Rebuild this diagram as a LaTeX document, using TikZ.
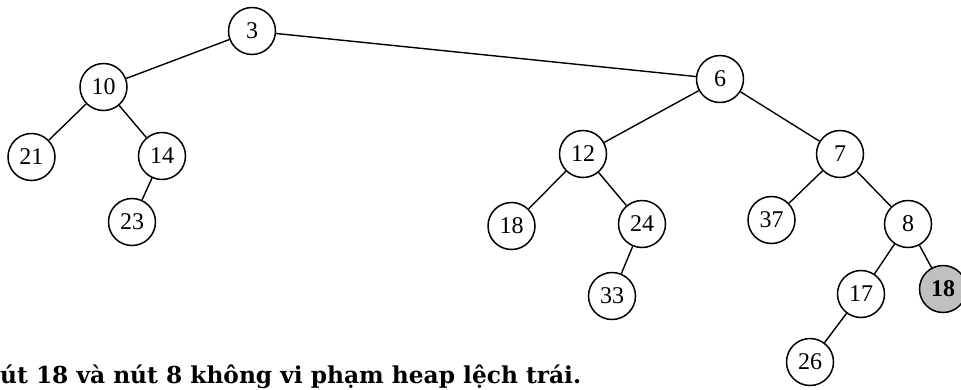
\documentclass[tikz,border=0pt]{standalone}
\usepackage{fontspec}
\setmainfont{Liberation Serif}
\newfontfamily\captfont{DejaVu Serif}
\begin{document}
\begin{tikzpicture}[x=1pt,y=-1pt,
  hnode/.style={circle, draw, line width=1.5pt, minimum size=47pt, inner sep=0pt, font=\fontsize{24}{24}\selectfont},
  hmark/.style={hnode, fill={rgb,255:red,192;green,192;blue,192}, font=\fontsize{24}{24}\selectfont\bfseries},
  edge/.style={line width=1.4pt}]
\useasboundingbox (0,0) rectangle (961,389);
\node[hnode] (n3) at (252,31) {3};
\node[hnode] (n10) at (103.5,87) {10};
\node[hnode] (n21) at (31.5,157) {21};
\node[hnode] (n14) at (162,156) {14};
\node[hnode] (n23) at (132,222) {23};
\node[hnode] (n6) at (720,79) {6};
\node[hnode] (n12) at (583,154) {12};
\node[hnode] (n18a) at (511.5,226) {18};
\node[hnode] (n24) at (642,224) {24};
\node[hnode] (n33) at (612,296) {33};
\node[hnode] (n7) at (840,154) {7};
\node[hnode] (n37) at (771.5,220) {37};
\node[hnode] (n8) at (908,224) {8};
\node[hnode] (n17) at (861,294) {17};
\node[hmark] (n18b) at (943,289) {18};
\node[hnode] (n26) at (810,362) {26};
\draw[edge] (n3) -- (n10);
\draw[edge] (n3) -- (n6);
\draw[edge] (n10) -- (n21);
\draw[edge] (n10) -- (n14);
\draw[edge] (n14) -- (n23);
\draw[edge] (n6) -- (n12);
\draw[edge] (n6) -- (n7);
\draw[edge] (n12) -- (n18a);
\draw[edge] (n12) -- (n24);
\draw[edge] (n24) -- (n33);
\draw[edge] (n7) -- (n37);
\draw[edge] (n7) -- (n8);
\draw[edge] (n8) -- (n17);
\draw[edge] (n8) -- (n18b);
\draw[edge] (n17) -- (n26);
\node[anchor=base west, inner sep=0pt, font=\captfont\bfseries\fontsize{23.3}{23.3}\selectfont] (cap) at (0,383) {út 18 và nút 8 không vi phạm heap lệch trái.};
\end{tikzpicture}
\end{document}
